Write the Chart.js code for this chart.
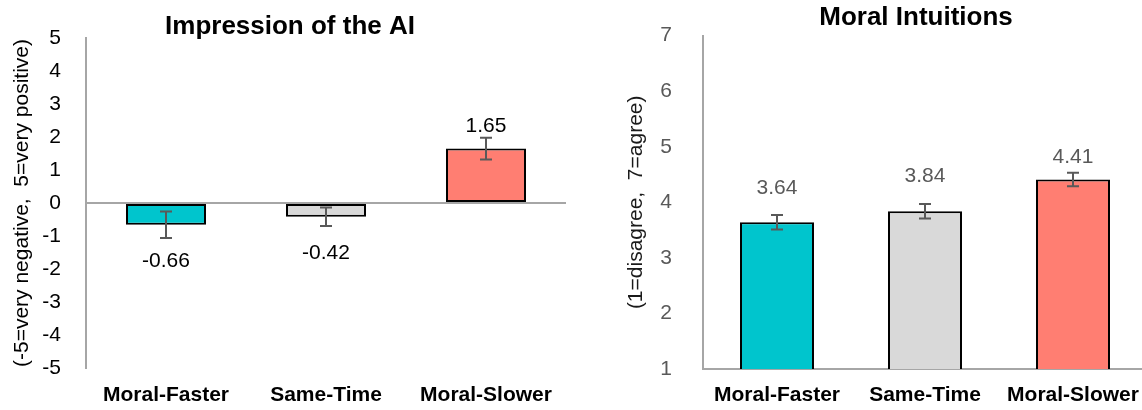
<!DOCTYPE html>
<html>
<head>
<meta charset="utf-8">
<script src="https://cdn.jsdelivr.net/npm/chart.js@4.4.1/dist/chart.umd.min.js"></script>
<style>
  html, body { margin: 0; padding: 0; background: #fff; overflow: hidden; }
  #wrap { position: relative; width: 1142px; height: 410px; overflow: hidden; }
  #left { position: absolute; left: 0; top: 0; }
  #right { position: absolute; left: 580px; top: 0; }
</style>
</head>
<body>
<div id="wrap">
  <canvas id="left" width="580" height="410"></canvas>
  <canvas id="right" width="672" height="410"></canvas>
</div>
<script>
// 데이터
var categories = ["Moral-Faster", "Same-Time", "Moral-Slower"];
var barColors = ["#00C5CD", "#D9D9D9", "#FF7E72"];

var impressionMeans = [-0.66, -0.42, 1.65];
var impressionErrors = [0.40, 0.28, 0.33];
var impressionRange = [-5, 5];

var intuitionMeans = [3.64, 3.84, 4.41];
var intuitionErrors = [0.13, 0.13, 0.12];
var intuitionRange = [1, 7];

var FONT = "'Liberation Sans', Arial, sans-serif";
var AXIS = "#A6A6A6";

// 제목 (캔버스 가운데)
var canvasTitle = {
  id: "canvasTitle",
  afterDraw: function(chart, args, opts) {
    var ctx = chart.ctx;
    ctx.save();
    ctx.fillStyle = "#000";
    ctx.font = "bold 26px " + FONT;
    ctx.textAlign = "center";
    ctx.textBaseline = "middle";
    ctx.fillText(opts.text, chart.width / 2, opts.y);
    ctx.restore();
  }
};

// 오차 막대 + 값 라벨
var errorBars = {
  id: "errorBars",
  afterDatasetsDraw: function(chart, args, opts) {
    var ctx = chart.ctx;
    var y = chart.scales.y;
    var meta = chart.getDatasetMeta(0);
    var vals = chart.data.datasets[0].data;
    ctx.save();
    meta.data.forEach(function(bar, i) {
      var v = vals[i], e = opts.errors[i];
      var top = y.getPixelForValue(v + e);
      var bot = y.getPixelForValue(v - e);
      ctx.strokeStyle = "#595959";
      ctx.lineWidth = 2;
      ctx.beginPath();
      ctx.moveTo(bar.x, top); ctx.lineTo(bar.x, bot);
      ctx.moveTo(bar.x - 6, top); ctx.lineTo(bar.x + 6, top);
      ctx.moveTo(bar.x - 6, bot); ctx.lineTo(bar.x + 6, bot);
      ctx.stroke();

      ctx.fillStyle = opts.labelColor;
      ctx.font = "21px " + FONT;
      ctx.textAlign = "center";
      ctx.textBaseline = "middle";
      ctx.fillText(v.toFixed(2), bar.x, y.getPixelForValue(v) + opts.labelOffsets[i]);
    });
    ctx.restore();
  }
};

// 왼쪽: Impression of the AI
new Chart(document.getElementById("left"), {
  type: "bar",
  data: {
    labels: categories,
    datasets: [{
      data: impressionMeans,
      backgroundColor: barColors,
      borderColor: "#000",
      borderWidth: 2,
      borderSkipped: false
    }]
  },
  options: {
    responsive: false,
    animation: false,
    categoryPercentage: 1,
    barPercentage: 0.5,
    layout: { padding: { top: 38, right: 14 } },
    plugins: {
      legend: { display: false },
      tooltip: { enabled: false },
      canvasTitle: { text: "Impression of the AI", y: 27 },
      errorBars: {
        errors: impressionErrors,
        labelColor: "#000",
        labelOffsets: [36, 36, -22]
      }
    },
    scales: {
      x: {
        z: 1,
        grid: { display: false },
        border: { display: false },
        ticks: { color: "#000", padding: 7, font: { family: FONT, size: 21, weight: "bold" } },
        afterFit: function(s) { s.height = 42; }
      },
      y: {
        z: 1,
        min: impressionRange[0],
        max: impressionRange[1],
        ticks: { stepSize: 1, color: "#000", padding: 25, font: { family: FONT, size: 21 } },
        grid: {
          drawTicks: false,
          lineWidth: 2,
          color: function(c) { return c.tick && c.tick.value === 0 ? AXIS : "rgba(0,0,0,0)"; }
        },
        border: { display: true, color: AXIS, width: 2 },
        title: {
          display: true,
          text: "(-5=very negative,  5=very positive)",
          color: "#000",
          font: { family: FONT, size: 21 },
          padding: { top: 10, bottom: 0 }
        },
        afterFit: function(s) { s.width = 86; }
      }
    }
  },
  plugins: [errorBars, canvasTitle]
});

// 오른쪽: Moral Intuitions
new Chart(document.getElementById("right"), {
  type: "bar",
  data: {
    labels: categories,
    datasets: [{
      data: intuitionMeans,
      backgroundColor: barColors,
      borderColor: "#000",
      borderWidth: 2,
      borderSkipped: false
    }]
  },
  options: {
    responsive: false,
    animation: false,
    categoryPercentage: 1,
    barPercentage: 0.5,
    layout: { padding: { top: 32, right: 105 } },
    plugins: {
      legend: { display: false },
      tooltip: { enabled: false },
      canvasTitle: { text: "Moral Intuitions", y: 18 },
      errorBars: {
        errors: intuitionErrors,
        labelColor: "#595959",
        labelOffsets: [-34, -35, -22]
      }
    },
    scales: {
      x: {
        z: 1,
        grid: { display: false },
        border: { display: true, color: AXIS, width: 2 },
        ticks: { color: "#000", padding: 6, font: { family: FONT, size: 21, weight: "bold" } },
        afterFit: function(s) { s.height = 41; }
      },
      y: {
        z: 1,
        min: intuitionRange[0],
        max: intuitionRange[1],
        ticks: { stepSize: 1, color: "#595959", padding: 23, font: { family: FONT, size: 21 } },
        grid: { display: false },
        border: { display: true, color: AXIS, width: 2 },
        title: {
          display: true,
          text: "(1=disagree,  7=agree)",
          color: "#1a1a1a",
          font: { family: FONT, size: 21 },
          padding: { top: 44, bottom: 0 }
        },
        afterFit: function(s) { s.width = 123; }
      }
    }
  },
  plugins: [errorBars, canvasTitle]
});
</script>
</body>
</html>
